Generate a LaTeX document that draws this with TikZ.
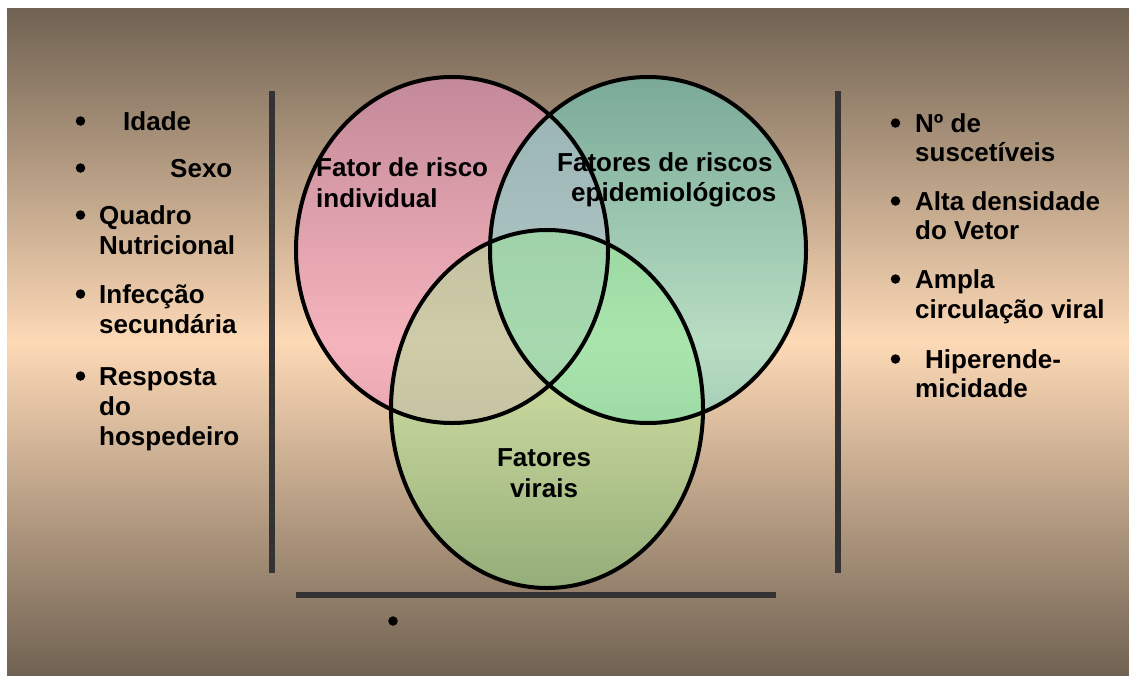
\documentclass[tikz,border=0pt]{standalone}
\usepackage{fontspec}
\setmainfont{Liberation Sans}

\definecolor{bgbrown}{RGB}{112,98,82}
\definecolor{bgpeach}{RGB}{253,217,182}
\definecolor{barcol}{RGB}{51,51,51}
\definecolor{pinkfill}{RGB}{240,150,195}
\definecolor{tealfill}{RGB}{100,228,212}
\definecolor{greenfill}{RGB}{150,240,140}

\begin{document}
\begin{tikzpicture}[x=1pt,y=-1pt,
	every node/.style={font=\fontsize{26}{30}\selectfont\bfseries,inner sep=0pt,anchor=base west},
	bullet/.style={circle,fill,minimum size=9.5pt,anchor=center},
	bar/.style={line width=6pt,barcol}]

\fill[white] (0,0) rectangle (1129,675);
\useasboundingbox (0,0) rectangle (1129,675);

\shade[top color=bgbrown,bottom color=bgbrown,middle color=bgpeach] (7,8) rectangle (1129,675);

\coordinate (I) at (452,250);
\coordinate (E) at (648,250);
\coordinate (V) at (547,409);

\fill[pinkfill,opacity=.55] (I) ellipse [x radius=156pt,y radius=173pt];
\fill[tealfill,opacity=.45] (E) ellipse [x radius=158pt,y radius=173pt];
\fill[greenfill,opacity=.4] (V) ellipse [x radius=156pt,y radius=179pt];

\foreach \c/\rx/\ry in {I/156/173,E/158/173,V/156/179} {
	\draw[line width=4pt] (\c) ellipse [x radius=\rx pt,y radius=\ry pt];
}

% bars
\coordinate (L1) at (271.5,91);
\coordinate (L2) at (271.5,573);
\coordinate (R1) at (837.5,91);
\coordinate (R2) at (837.5,573);
\coordinate (H1) at (296,595);
\coordinate (H2) at (776,595);

\draw[bar] (L1)--(L2);
\draw[bar] (R1)--(R2);
\draw[bar] (H1)--(H2);

\node[bullet] (dot) at (393,621) {};

% left list
\foreach \y in {130,177,224,303,385} {
	\node[bullet] (bl\y) at (80.5,\y-9) {};
}
\node (idade) at (123,130) {Idade};
\node (sexo) at (170,177) {Sexo};
\node (quadro) at (99,224) {Quadro};
\node (nutri) at (99,254) {Nutricional};
\node (infec) at (99,303) {Infecção};
\node (secund) at (99,333) {secundária};
\node (resp) at (99,385) {Resposta};
\node (do) at (99,415) {do};
\node (hosp) at (99,445) {hospedeiro};

% right list
\foreach \y in {132,210,288,368} {
	\node[bullet] (br\y) at (895.5,\y-9) {};
}
\node (num) at (915,132) {Nº de};
\node (susc) at (915,161) {suscetíveis};
\node (alta) at (915,210) {Alta densidade};
\node (vetor) at (915,239) {do Vetor};
\node (ampla) at (915,288) {Ampla};
\node (circ) at (915,318) {circulação viral};
\node (hiper) at (925,368) {Hiperende-};
\node (micid) at (915,397) {micidade};

% circle labels
\node (ind1) at (316,176) {Fator de risco};
\node (ind2) at (316,207) {individual};
\node (epi1) at (557,171) {Fatores de riscos};
\node (epi2) at (571,201) {epidemiológicos};
\node[anchor=base] (vir1) at (544,466) {Fatores};
\node[anchor=base] (vir2) at (544,497) {virais};

\end{tikzpicture}
\end{document}
